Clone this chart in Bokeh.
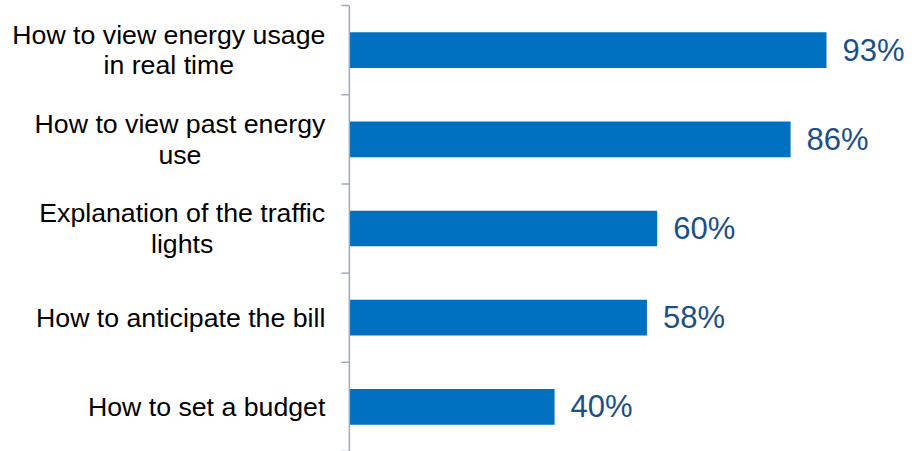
from bokeh.plotting import figure
from bokeh.models import Range1d, ColumnDataSource
from bokeh.core.properties import value
from bokeh.embed import file_html
from bokeh.resources import INLINE

# ---- data ----
categories = [
    "How to view energy usage\nin real time",
    "How to view past energy\nuse",
    "Explanation of the traffic\nlights",
    "How to anticipate the bill",
    "How to set a budget",
]
percent = [93, 86, 60, 58, 40]
pct_labels = ["93%", "86%", "60%", "58%", "40%"]

# ---- styling ----
W, H = 924, 451
BAR_COLOR = "#0070C0"
PCT_COLOR = "#1B4F8A"
AXIS_COLOR = "#A4A8BE"
CAT_FONT_PX = 26.7
PCT_FONT_PX = 31

# Arial / Liberation Sans advance widths (per 1000 em) for label width estimate
ARIAL = {" ": 278, "a": 556, "b": 556, "c": 500, "d": 556, "e": 556, "f": 278,
         "g": 556, "h": 556, "i": 222, "j": 222, "k": 500, "l": 222, "m": 833,
         "n": 556, "o": 556, "p": 556, "q": 556, "r": 333, "s": 500, "t": 278,
         "u": 556, "v": 500, "w": 722, "x": 500, "y": 500, "z": 500, "H": 722,
         "E": 667}


def text_width(s, px):
    return max(sum(ARIAL.get(c, 556) for c in line) for line in s.split("\n")) * px / 1000.0


x_start, x_end = -0.680, 1.121
px_per_x = W / (x_end - x_start)
n = len(categories)
y_bottom, y_top = n - 0.5, -0.556

p = figure(width=W, height=H, output_backend="svg", toolbar_location=None,
           x_range=Range1d(x_start, x_end), y_range=Range1d(y_bottom, y_top),
           min_border=0, outline_line_color=None,
           x_axis_location=None, y_axis_location=None)
p.xgrid.visible = False
p.ygrid.visible = False
p.background_fill_color = "white"
p.border_fill_color = "white"

idx = list(range(n))
src = ColumnDataSource(dict(
    y=idx,
    right=[v / 100 for v in percent],
    pct=pct_labels,
    cat=categories,
    cat_off=[-(24 + text_width(c, CAT_FONT_PX) / 2) for c in categories],
))

p.hbar(y="y", left=0, right="right", height=0.4, source=src,
       fill_color=BAR_COLOR, line_color=None)

p.text(x="right", y="y", text="pct", source=src, x_offset=16,
       text_align="left", text_baseline="middle",
       text_font=value("Liberation Sans"), text_font_size=f"{PCT_FONT_PX}px",
       text_color=PCT_COLOR)

p.text(x=0, y="y", text="cat", source=src, x_offset="cat_off",
       text_align="center", text_baseline="middle", text_line_height=1.02,
       text_font=value("Liberation Sans"), text_font_size=f"{CAT_FONT_PX}px",
       text_color="black")

# category axis line with outward ticks at band boundaries
p.segment(x0=[0], y0=[-0.5], x1=[0], y1=[n - 0.5], line_color=AXIS_COLOR, line_width=1.5)
tick_len = 8 / px_per_x
bounds = [i - 0.5 for i in range(n + 1)]
p.segment(x0=[0] * len(bounds), y0=bounds, x1=[-tick_len] * len(bounds), y1=bounds,
          line_color=AXIS_COLOR, line_width=1.5)

open("out.html", "w").write(file_html(p, INLINE))
